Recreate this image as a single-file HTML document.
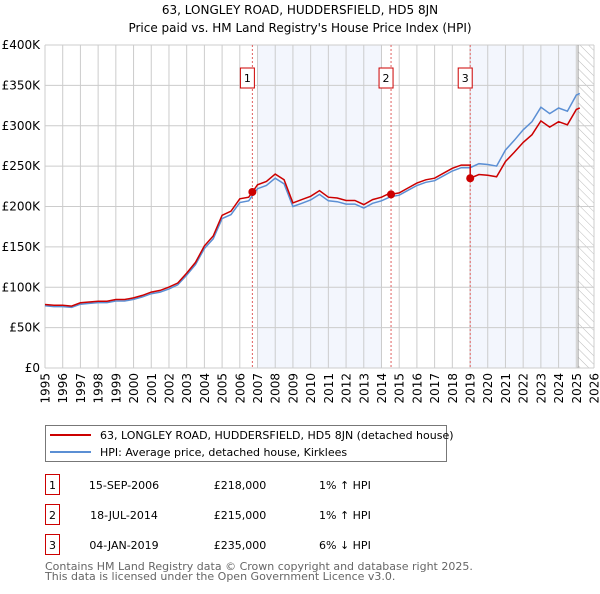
<!DOCTYPE html>
<html><head><meta charset="utf-8"><style>
body{margin:0;background:#fff;font-family:"DejaVu Sans","Liberation Sans",sans-serif;}
svg text{font-family:"DejaVu Sans","Liberation Sans",sans-serif;}
</style></head><body>
<svg id="c" width="600" height="590" xmlns="http://www.w3.org/2000/svg"></svg>
<script>
const years=[1995,1995.5,1996,1996.5,1997,1997.5,1998,1998.5,1999,1999.5,2000,2000.5,2001,2001.5,2002,2002.5,2003,2003.5,2004,2004.5,2005,2005.5,2006,2006.5,2007,2007.5,2008,2008.5,2009,2009.5,2010,2010.5,2011,2011.5,2012,2012.5,2013,2013.5,2014,2014.5,2015,2015.5,2016,2016.5,2017,2017.5,2018,2018.5,2019,2019.5,2020,2020.5,2021,2021.5,2022,2022.5,2023,2023.5,2024,2024.5,2025,2025.2];
const hpi=[77,76,76,75,79,80,81,81,83,83,85,88,92,94,98,103,115,128,148,160,185,190,205,207,222,226,235,228,200,204,208,215,207,206,203,203,198,204,207,212,214,220,226,230,232,238,244,248,248,253,252,250,270,282,295,305,323,315,322,318,338,340];
const saleYears=[2006.71,2014.54,2019.01];
const salePrices=[218,215,235];
const saleLabels=["1","2","3"];
const yTicks=[0,50,100,150,200,250,300,350,400];
const yTickLabels=["£0","£50K","£100K","£150K","£200K","£250K","£300K","£350K","£400K"];
const NS="http://www.w3.org/2000/svg";
const svg=document.getElementById('c');
const L=45,R=594,T=45,B=368;
const X=y=>L+(y-1995)/(2026-1995)*(R-L);
const Y=v=>B-v/400*(B-T);
function mk(tag,attrs,parent){const e=document.createElementNS(NS,tag);for(const k in attrs)e.setAttribute(k,attrs[k]);(parent||svg).appendChild(e);return e;}
function txt(s,attrs){const e=mk('text',attrs);e.textContent=s;return e;}
function hpiAt(y){for(let i=0;i<years.length-1;i++){if(y>=years[i]&&y<=years[i+1]){const f=(y-years[i])/(years[i+1]-years[i]);return hpi[i]+f*(hpi[i+1]-hpi[i]);}}return hpi[hpi.length-1];}
let t=txt("63, LONGLEY ROAD, HUDDERSFIELD, HD5 8JN",{x:300,y:14,'text-anchor':'middle','font-size':12});

t=txt("Price paid vs. HM Land Registry's House Price Index (HPI)",{x:300,y:32,'text-anchor':'middle','font-size':12});

let s=mk('rect',{x:X(2007),y:T,width:X(2014)-X(2007),height:B-T,fill:'#f3f6fd'});

s=mk('rect',{x:X(2019),y:T,width:X(2025)-X(2019),height:B-T,fill:'#f3f6fd'});

const defs=mk('defs',{});
const pat=mk('pattern',{id:'h',width:6,height:6,patternUnits:'userSpaceOnUse',patternTransform:'rotate(-45)'},defs);
mk('line',{x1:0,y1:0,x2:0,y2:6,stroke:'#bbb','stroke-width':1},pat);
s=mk('rect',{x:X(2025.1),y:T,width:R-X(2025.1),height:B-T,fill:'url(#h)'});

for(let yr=1995;yr<=2026;yr++){const g=mk('line',{x1:X(yr),x2:X(yr),y1:T,y2:B,stroke:'#cccccc','stroke-width':1});

const lb=txt(String(yr),{x:0,y:0,'text-anchor':'end','font-size':12,transform:'translate('+(X(yr)+4.5)+',373) rotate(-90)'});
}
yTicks.forEach((v,i)=>{const g=mk('line',{x1:L,x2:R,y1:Y(v),y2:Y(v),stroke:'#cccccc','stroke-width':1});

const lb=txt(yTickLabels[i],{x:40,y:Y(v)+4,'text-anchor':'end','font-size':12});
});
mk('line',{x1:X(2025.1),x2:X(2025.1),y1:T,y2:B,stroke:'#999','stroke-width':1});
saleYears.forEach((sy,i)=>{const l=mk('line',{x1:X(sy),x2:X(sy),y1:T,y2:B,stroke:'#e06060','stroke-width':1,'stroke-dasharray':'2,2'});

const bx=mk('rect',{x:X(sy)-12,y:68,width:14,height:20,fill:'#fff',stroke:'#cc0000','stroke-width':1});

txt(saleLabels[i],{x:X(sy)-5,y:82,'text-anchor':'middle','font-size':11});});
const hp=years.map((y,i)=>X(y).toFixed(1)+','+Y(hpi[i]).toFixed(1)).join(' ');
let pl=mk('polyline',{points:hp,fill:'none',stroke:'#5b8fd4','stroke-width':1.5});

const pts=[];
years.forEach((y,i)=>{let k=0;for(let j=0;j<saleYears.length;j++)if(y>=saleYears[j])k=j;
const ratio=salePrices[k]/hpiAt(saleYears[k]);pts.push([y,hpi[i]*ratio]);});
saleYears.forEach((sy,j)=>{if(j>0){const r0=salePrices[j-1]/hpiAt(saleYears[j-1]);pts.push([sy-0.001,hpiAt(sy)*r0]);}pts.push([sy,salePrices[j]]);});
pts.sort((a,b)=>a[0]-b[0]);
pl=mk('polyline',{points:pts.map(p=>X(p[0]).toFixed(1)+','+Y(p[1]).toFixed(1)).join(' '),fill:'none',stroke:'#cc0000','stroke-width':1.5});

saleYears.forEach((sy,i)=>{const c=mk('circle',{cx:X(sy),cy:Y(salePrices[i]),r:4,fill:'#cc0000'});
});
let lg=mk('rect',{x:45.5,y:425.5,width:401,height:36,fill:'#fff',stroke:'#777','stroke-width':1});

mk('line',{x1:50,x2:91,y1:435,y2:435,stroke:'#cc0000','stroke-width':2});
txt("63, LONGLEY ROAD, HUDDERSFIELD, HD5 8JN (detached house)",{x:100,y:439,'font-size':11});
mk('line',{x1:50,x2:91,y1:452,y2:452,stroke:'#5b8fd4','stroke-width':2});
txt("HPI: Average price, detached house, Kirklees",{x:100,y:456,'font-size':11});
const dates=["15-SEP-2006","18-JUL-2014","04-JAN-2019"];
const prices=["£218,000","£215,000","£235,000"];
const rel=["1% ↑ HPI","1% ↑ HPI","6% ↓ HPI"];
[0,1,2].forEach(i=>{const yy=483+i*30;
const b=mk('rect',{x:45.5,y:yy-8.5,width:14,height:20,fill:'#fff',stroke:'#cc0000','stroke-width':1});

txt(String(i+1),{x:52.5,y:yy+6,'text-anchor':'middle','font-size':11});
txt(dates[i],{x:124,y:yy+6,'text-anchor':'middle','font-size':11});
txt(prices[i],{x:240,y:yy+6,'text-anchor':'middle','font-size':11});
txt(rel[i],{x:319,y:yy+6,'font-size':11});});
let f=txt("Contains HM Land Registry data © Crown copyright and database right 2025.",{x:45,y:570,'font-size':11,fill:'#666'});

f=txt("This data is licensed under the Open Government Licence v3.0.",{x:45,y:580,'font-size':11,fill:'#666'});

</script>
</body></html>
